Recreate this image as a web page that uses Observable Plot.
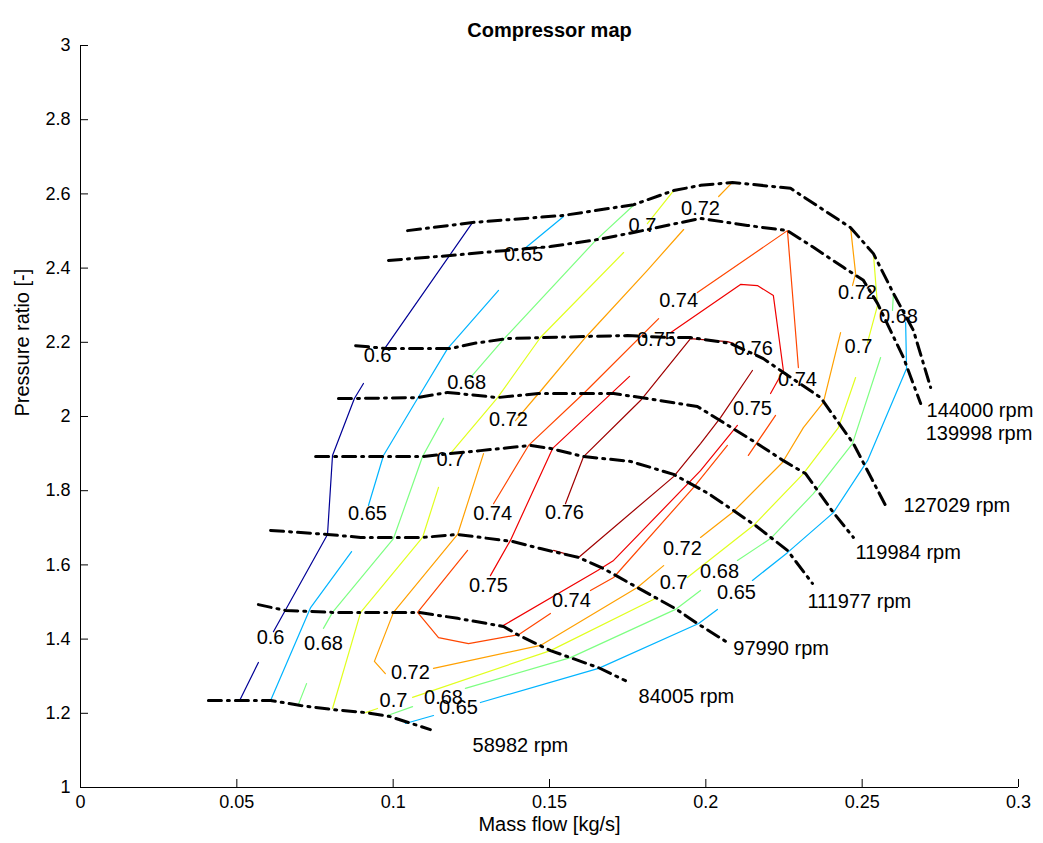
<!DOCTYPE html>
<html><head><meta charset="utf-8">
<script src="https://cdn.jsdelivr.net/npm/d3@7"></script>
<script src="https://cdn.jsdelivr.net/npm/@observablehq/plot@0.6"></script>
<style>body{margin:0;background:#fff;font-family:"Liberation Sans",Arial,sans-serif}</style>
</head><body><div id="chart"></div>
<script>
// ---- Speed lines (mass flow [kg/s], pressure ratio [-]) ----
const rpmNames = ["144000 rpm","139998 rpm","127029 rpm","119984 rpm","111977 rpm","97990 rpm","84005 rpm","58982 rpm"];
const n144000 = [[0.1046,2.501],[0.1254,2.523],[0.1545,2.542],[0.1769,2.571],[0.1897,2.609],[0.1983,2.623],[0.2085,2.631],[0.2271,2.615],[0.2463,2.509],[0.2536,2.439],[0.2600,2.332],[0.2664,2.232],[0.2719,2.078]];
const n139998 = [[0.0985,2.4205],[0.1183,2.434],[0.1353,2.447],[0.1503,2.458],[0.1654,2.477],[0.1769,2.496],[0.1983,2.534],[0.2133,2.515],[0.2261,2.501],[0.2344,2.456],[0.2440,2.402],[0.2504,2.367],[0.2549,2.305],[0.2632,2.159],[0.2687,2.035]];
const n127029 = [[0.0880,2.191],[0.0982,2.183],[0.1183,2.183],[0.1257,2.197],[0.1366,2.210],[0.1631,2.216],[0.1749,2.218],[0.1877,2.213],[0.1951,2.213],[0.2079,2.197],[0.2184,2.156],[0.2239,2.124],[0.2367,2.051],[0.2472,1.927],[0.2575,1.760]];
const n119984 = [[0.0825,2.0485],[0.0873,2.0485],[0.1078,2.051],[0.1174,2.065],[0.1334,2.051],[0.1465,2.062],[0.1590,2.062],[0.1705,2.062],[0.1813,2.0485],[0.1973,2.027],[0.2159,1.930],[0.2248,1.881],[0.2319,1.846],[0.2408,1.741],[0.2472,1.674]];
const n111977 = [[0.0752,1.892],[0.0966,1.892],[0.1094,1.892],[0.1183,1.900],[0.1279,1.908],[0.1439,1.922],[0.1503,1.914],[0.1609,1.892],[0.1759,1.879],[0.1897,1.844],[0.2009,1.792],[0.2159,1.706],[0.2261,1.639],[0.2341,1.550]];
const n097990 = [[0.0608,1.693],[0.0790,1.682],[0.0896,1.674],[0.1094,1.674],[0.1206,1.682],[0.1382,1.663],[0.1471,1.644],[0.1593,1.620],[0.1673,1.590],[0.1781,1.539],[0.1903,1.482],[0.1973,1.442],[0.2069,1.391]];
const n084005 = [[0.0569,1.493],[0.0656,1.477],[0.0806,1.472],[0.1001,1.472],[0.1081,1.472],[0.1206,1.456],[0.1353,1.434],[0.1398,1.412],[0.1503,1.369],[0.1657,1.323],[0.1743,1.288]];
const n058982 = [[0.0409,1.2345],[0.0608,1.2345],[0.0704,1.221],[0.0806,1.210],[0.0912,1.202],[0.0991,1.191],[0.1119,1.156]];
const rpmLabelX = [0.2706,0.2703,0.2632,0.2479,0.2325,0.2088,0.1785,0.1254];
const rpmLabelY = [2.016,1.954,1.760,1.633,1.501,1.375,1.245,1.113];

// ---- Efficiency contours ----
const levels = [0.6,0.65,0.68,0.7,0.72,0.74,0.75,0.76];
const levelText = ["0.6","0.65","0.68","0.7","0.72","0.74","0.75","0.76"];
const levelColors = ["#000096","#00B4FF","#7DFF82","#E1FF1E","#FFA000","#FF4600","#F00000","#A00000"];
const eff060 = [
 [[0.0509,1.2345],[0.0569,1.337]],
 [[0.0617,1.420],[0.0790,1.682],[0.0806,1.895],[0.0876,2.0485],[0.0905,2.089]],
 [[0.0966,2.175],[0.1254,2.523]]
];
const eff065 = [
 [[0.2639,2.2534],[0.2642,2.1294],[0.2517,1.881],[0.2408,1.741],[0.2261,1.633],[0.2149,1.558]],
 [[0.2037,1.480],[0.1977,1.442],[0.1657,1.321],[0.1279,1.229]],
 [[0.1129,1.194],[0.1039,1.1725]],
 [[0.0608,1.2345],[0.0736,1.485],[0.0867,1.636]],
 [[0.0921,1.760],[0.0969,1.895],[0.1078,2.0485],[0.1174,2.183],[0.1337,2.340]],
 [[0.1417,2.450],[0.1545,2.539]]
];
const eff068 = [
 [[0.0697,1.224],[0.0723,1.280]],
 [[0.0777,1.429],[0.0806,1.472],[0.1001,1.671],[0.1094,1.892],[0.1161,1.995]],
 [[0.1247,2.105],[0.1350,2.205],[0.1647,2.474],[0.1775,2.574]],
 [[0.2600,2.332],[0.2597,2.286]],
 [[0.2559,2.159],[0.2469,1.927],[0.2344,1.792],[0.2207,1.671],[0.2101,1.612]],
 [[0.1983,1.531],[0.1903,1.480],[0.1567,1.350],[0.1231,1.267]],
 [[0.1062,1.218],[0.0982,1.194]]
];
const eff070 = [
 [[0.0806,1.213],[0.0896,1.472],[0.1094,1.674],[0.1145,1.809]],
 [[0.1183,1.900],[0.1334,2.051],[0.1471,2.213],[0.1737,2.442]],
 [[0.1813,2.520],[0.1897,2.609]],
 [[0.2536,2.439],[0.2549,2.299],[0.2517,2.199]],
 [[0.2479,2.105],[0.2424,1.970],[0.2312,1.846],[0.2152,1.706],[0.1941,1.566]],
 [[0.1845,1.512],[0.1503,1.369],[0.1062,1.243]],
 [[0.0950,1.213],[0.0912,1.202]]
];
const eff072 = [
 [[0.2085,2.631],[0.2041,2.593]],
 [[0.1929,2.504],[0.1813,2.394],[0.1615,2.213],[0.1465,2.062],[0.1391,1.989]],
 [[0.1289,1.900],[0.1206,1.682],[0.1001,1.472],[0.0940,1.340],[0.0975,1.307]],
 [[0.1129,1.321],[0.1471,1.383],[0.1781,1.539],[0.1865,1.598]],
 [[0.1983,1.674],[0.2085,1.741],[0.2245,1.876],[0.2312,1.970],[0.2376,2.038],[0.2431,2.226]],
 [[0.2469,2.353],[0.2479,2.385],[0.2463,2.509]]
];
const eff074 = [
 [[0.1973,2.334],[0.2261,2.501],[0.2296,2.132]],
 [[0.1849,2.264],[0.1609,2.062],[0.1433,1.922],[0.1321,1.765]],
 [[0.1238,1.639],[0.1078,1.472],[0.1145,1.404],[0.1241,1.388],[0.1401,1.412],[0.1503,1.469]],
 [[0.1631,1.531],[0.1705,1.566],[0.1961,1.809],[0.2069,1.922]],
 [[0.2223,2.003],[0.2136,1.895]]
];
const eff075 = [
 [[0.1756,2.108],[0.1510,1.914],[0.1375,1.666],[0.1311,1.571]],
 [[0.1887,2.226],[0.2111,2.356],[0.2165,2.353],[0.2216,2.326],[0.2248,2.124],[0.2207,2.062]],
 [[0.2101,1.976],[0.1983,1.854],[0.1705,1.612],[0.1654,1.585],[0.1353,1.437]]
];
const eff076 = [
 [[0.1551,1.765],[0.1609,1.892],[0.1791,2.043],[0.1951,2.210],[0.2069,2.202],[0.2088,2.197]],
 [[0.2149,2.124],[0.2047,1.997],[0.1983,1.927],[0.1897,1.838],[0.1593,1.620],[0.1513,1.639]]
];
// inline contour label positions
const lab060 = [[0.0950,2.1644],[0.0608,1.404]];
const lab065 = [[0.1417,2.4367],[0.0918,1.7385],[0.2098,1.5256],[0.1209,1.2156]];
const lab068 = [[0.1235,2.0916],[0.0777,1.3881],[0.2616,2.2695],[0.2044,1.5822],[0.1161,1.2426]];
const lab070 = [[0.1797,2.5148],[0.1183,1.8841],[0.2488,2.1887],[0.1897,1.5526],[0.1001,1.2345]];
const lab072 = [[0.1983,2.5606],[0.1369,1.9919],[0.2485,2.3342],[0.1925,1.6442],[0.1055,1.31]];
const lab074 = [[0.1913,2.3127],[0.1318,1.7385],[0.2293,2.0997],[0.1570,1.504]];
const lab075 = [[0.1842,2.2075],[0.2149,2.0216],[0.1305,1.5445]];
const lab076 = [[0.2152,2.1833],[0.1548,1.7412]];

const xTicks = [0,0.05,0.1,0.15,0.2,0.25,0.3];
const yTicks = [1,1.2,1.4,1.6,1.8,2,2.2,2.4,2.6,2.8,3];

// ---- build tables ----
const speedSets = [n144000,n139998,n127029,n119984,n111977,n097990,n084005,n058982];
const sRows = [];
speedSets.forEach((s,i)=>s.forEach(([x,y])=>sRows.push({x,y,rpm:rpmNames[i]})));
const rLabels = rpmNames.map((t,i)=>({x:rpmLabelX[i],y:rpmLabelY[i],text:t}));
const contourSets = [eff060,eff065,eff068,eff070,eff072,eff074,eff075,eff076];
const labelSets = [lab060,lab065,lab068,lab070,lab072,lab074,lab075,lab076];
const cRows = [];
contourSets.forEach((set,i)=>set.forEach((piece,j)=>piece.forEach(([x,y])=>cRows.push({x,y,id:i+"-"+j,color:levelColors[i],level:levels[i]}))));
const cLabels = [];
labelSets.forEach((set,i)=>set.forEach(([x,y])=>cLabels.push({x,y,text:levelText[i]})));
const fmt = d => String(+d.toFixed(2));

const chart = Plot.plot({
  width:1043, height:843,
  marginLeft:80, marginRight:25, marginTop:45, marginBottom:56,
  style:{fontFamily:"'Liberation Sans', Arial, sans-serif", background:"white", color:"black", fontSize:"18px"},
  x:{domain:[0,0.3]},
  y:{domain:[1,3]},
  color:{type:"identity"},
  marks:[
    Plot.line(cRows,{x:"x",y:"y",z:"id",stroke:"color",strokeWidth:1.2}),
    Plot.line(sRows,{x:"x",y:"y",z:"rpm",stroke:"black",strokeWidth:3,strokeDasharray:"13,6,2,6"}),
    Plot.text(cLabels,{x:"x",y:"y",text:"text",fontSize:20,fill:"black"}),
    Plot.text(rLabels,{x:"x",y:"y",text:"text",textAnchor:"start",fontSize:20,fill:"black"}),
    Plot.ruleX([0],{stroke:"black"}),
    Plot.ruleY([1],{stroke:"black"}),
    Plot.axisX({ticks:xTicks, tickSize:-8, tickPadding:16, tickFormat:fmt, label:null}),
    Plot.axisY({ticks:yTicks, tickSize:-8, tickPadding:18, tickFormat:fmt, label:null}),
    Plot.text(["Mass flow [kg/s]"],{frameAnchor:"bottom", dy:43, fontSize:20}),
    Plot.text(["Pressure ratio [-]"],{frameAnchor:"left", dx:-58, rotate:-90, fontSize:20}),
    Plot.text(["Compressor map"],{frameAnchor:"top", dy:-23, fontSize:20, fontWeight:"bold"})
  ]
});
document.getElementById("chart").appendChild(chart);
</script></body></html>
